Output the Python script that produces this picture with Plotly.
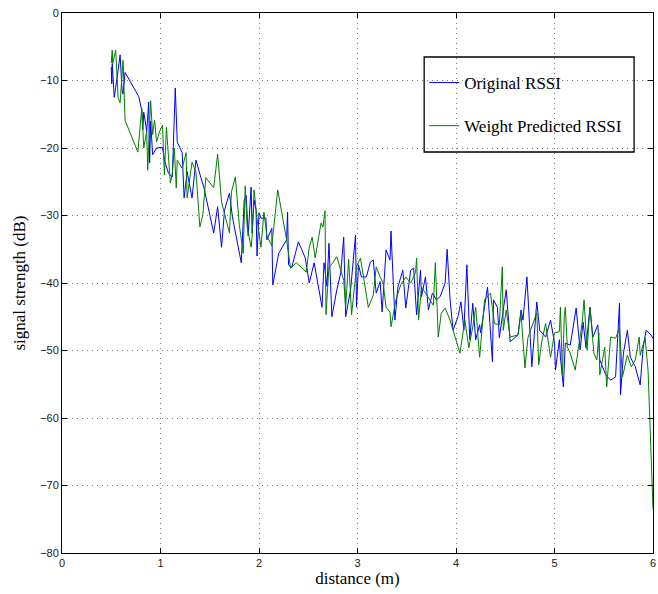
import plotly.graph_objects as go

# Original RSSI samples: distance (m) and signal strength (dB)
orig_dist = [
    0.50, 0.505, 0.51, 0.52, 0.53, 0.56, 0.59, 0.61, 0.62, 0.64,
    0.78, 0.81, 0.82, 0.83, 0.86, 0.88, 0.89, 0.90, 0.92, 0.96,
    1.02, 1.04, 1.08, 1.12, 1.15, 1.17, 1.22, 1.24, 1.27, 1.32,
    1.36, 1.41, 1.44, 1.49, 1.54, 1.58, 1.62, 1.65, 1.70, 1.73,
    1.77, 1.82, 1.85, 1.87, 1.89, 1.92, 1.93, 1.95, 1.97, 1.98,
    2.00, 2.02, 2.07, 2.08, 2.13, 2.14, 2.20, 2.28, 2.29, 2.30,
    2.33, 2.40, 2.47, 2.51, 2.56, 2.59, 2.64, 2.66, 2.69, 2.71,
    2.74, 2.79, 2.83, 2.86, 2.88, 2.93, 2.98, 2.99, 3.01, 3.04,
    3.09, 3.13, 3.16, 3.19, 3.23, 3.25, 3.29, 3.33, 3.34, 3.38,
    3.41, 3.46, 3.49, 3.54, 3.57, 3.60, 3.64, 3.65, 3.69, 3.72,
    3.76, 3.80, 3.84, 3.89, 3.91, 3.94, 3.97, 4.02, 4.05, 4.08,
    4.11, 4.14, 4.17, 4.20, 4.24, 4.25, 4.32, 4.37, 4.38, 4.42,
    4.44, 4.47, 4.51, 4.55, 4.63, 4.66, 4.68, 4.72, 4.75, 4.77,
    4.82, 4.85, 4.91, 4.96, 5.00, 5.01, 5.05, 5.06, 5.09, 5.11,
    5.16, 5.22, 5.26, 5.29, 5.32, 5.36, 5.39, 5.44, 5.46, 5.52,
    5.57, 5.62, 5.66, 5.67, 5.70, 5.74, 5.77, 5.82, 5.87, 5.90,
    5.93, 5.98, 6.00,
]
orig_rssi = [
    -8.0, -10.5, -7.5, -11.5, -12.5, -9.5, -6.2, -11.5, -12.0, -8.8,
    -12.4, -14.5, -17.3, -14.7, -17.5, -13.2, -22.2, -16.0, -21.0, -20.0,
    -19.9, -21.8, -23.7, -24.3, -11.1, -19.1, -20.7, -27.4, -23.5, -27.4,
    -21.8, -24.4, -25.8, -29.2, -32.6, -28.7, -34.7, -29.2, -26.7, -30.2,
    -33.0, -37.0, -27.7, -27.0, -33.0, -25.8, -32.6, -27.7, -29.2, -36.0,
    -29.6, -30.4, -30.4, -33.6, -31.9, -40.3, -35.6, -33.6, -29.5, -37.3,
    -37.8, -33.9, -36.3, -40.0, -37.0, -39.5, -43.6, -37.0, -40.5, -34.1,
    -45.0, -41.0, -38.5, -33.2, -45.0, -41.0, -32.9, -43.6, -37.3, -39.1,
    -39.1, -36.9, -36.6, -41.5, -39.8, -44.3, -35.1, -36.6, -32.3, -45.5,
    -40.6, -38.1, -43.7, -38.1, -37.8, -44.7, -38.1, -42.0, -39.1, -44.0,
    -41.5, -42.5, -42.0, -40.0, -35.0, -42.5, -47.0, -45.0, -42.8, -47.0,
    -37.3, -48.4, -43.0, -48.4, -46.2, -47.4, -40.6, -51.7, -42.5, -43.6,
    -48.1, -45.0, -41.0, -48.7, -47.7, -44.0, -45.5, -39.1, -46.5, -52.4,
    -42.8, -47.0, -48.0, -45.5, -48.9, -52.9, -48.4, -51.0, -55.4, -48.9,
    -49.2, -43.7, -49.9, -45.8, -49.6, -43.6, -48.0, -46.2, -51.4, -53.6,
    -54.4, -53.9, -43.0, -56.6, -50.4, -47.0, -51.0, -52.4, -55.1, -49.6,
    -47.0, -47.7, -48.2,
]

# Weight-predicted RSSI samples
pred_dist = [
    0.50, 0.51, 0.515, 0.545, 0.57, 0.59, 0.62, 0.64, 0.77, 0.81,
    0.83, 0.86, 0.87, 0.90, 0.92, 0.94, 0.96, 0.99, 1.02, 1.04,
    1.06, 1.10, 1.12, 1.14, 1.16, 1.17, 1.22, 1.26, 1.27, 1.32,
    1.36, 1.40, 1.43, 1.46, 1.54, 1.58, 1.62, 1.66, 1.70, 1.72,
    1.76, 1.80, 1.84, 1.86, 1.88, 1.92, 1.93, 1.95, 1.98, 2.02,
    2.05, 2.08, 2.13, 2.19, 2.28, 2.32, 2.38, 2.48, 2.51, 2.54,
    2.57, 2.63, 2.65, 2.67, 2.68, 2.71, 2.74, 2.79, 2.86, 2.88,
    2.91, 2.94, 2.99, 3.03, 3.06, 3.11, 3.16, 3.19, 3.23, 3.26,
    3.29, 3.33, 3.34, 3.39, 3.44, 3.49, 3.54, 3.59, 3.60, 3.62,
    3.65, 3.69, 3.74, 3.77, 3.79, 3.82, 3.85, 3.89, 3.94, 3.97,
    4.04, 4.09, 4.13, 4.17, 4.20, 4.24, 4.29, 4.35, 4.39, 4.44,
    4.47, 4.48, 4.51, 4.55, 4.63, 4.66, 4.70, 4.73, 4.78, 4.82,
    4.84, 4.87, 4.91, 4.96, 5.00, 5.05, 5.06, 5.08, 5.10, 5.11,
    5.13, 5.16, 5.21, 5.25, 5.28, 5.30, 5.33, 5.36, 5.40, 5.43,
    5.45, 5.46, 5.51, 5.53, 5.57, 5.62, 5.66, 5.69, 5.74, 5.78,
    5.82, 5.86, 5.87, 5.92, 5.95, 6.00,
]
pred_rssi = [
    -7.4, -5.5, -7.5, -5.5, -12.6, -13.3, -7.0, -15.9, -20.6, -14.1,
    -20.0, -17.5, -23.3, -13.0, -18.0, -15.9, -19.1, -17.6, -16.6, -24.0,
    -16.9, -25.2, -23.8, -20.0, -25.9, -21.8, -23.0, -20.7, -27.4, -22.1,
    -23.6, -31.7, -29.9, -24.4, -25.9, -20.9, -28.0, -30.4, -32.6, -26.5,
    -24.3, -31.4, -35.6, -25.6, -31.7, -34.7, -33.2, -26.2, -30.5, -34.7,
    -29.5, -33.0, -34.5, -26.2, -33.6, -37.8, -37.0, -38.4, -34.7, -33.2,
    -36.3, -31.1, -31.7, -29.3, -44.7, -37.6, -37.2, -36.1, -39.6, -43.6,
    -36.5, -44.7, -37.6, -36.3, -39.0, -43.6, -41.8, -37.6, -39.1, -40.0,
    -43.6, -44.3, -46.5, -42.5, -40.2, -39.1, -40.0, -38.4, -36.3, -45.5,
    -40.6, -41.5, -42.5, -43.3, -37.0, -48.0, -44.5, -43.7, -45.5, -47.0,
    -50.4, -45.5, -49.6, -46.5, -43.6, -51.0, -42.5, -41.5, -46.0, -46.2,
    -37.6, -47.0, -44.0, -48.0, -47.7, -44.4, -52.6, -48.1, -46.2, -44.4,
    -52.1, -48.7, -46.0, -51.0, -47.4, -47.2, -43.6, -53.6, -44.7, -43.6,
    -49.5, -50.4, -52.9, -48.7, -46.0, -42.5, -49.9, -43.6, -50.4, -51.4,
    -47.4, -53.6, -49.5, -55.4, -48.0, -48.2, -46.7, -53.9, -50.7, -52.4,
    -51.4, -48.0, -50.7, -48.1, -53.0, -73.5,
]

x_ticks = [0, 1, 2, 3, 4, 5, 6]
y_ticks = [-80, -70, -60, -50, -40, -30, -20, -10, 0]

serif = "Liberation Serif"
sans = "Liberation Sans"

fig = go.Figure()
fig.add_trace(go.Scatter(
    x=orig_dist, y=orig_rssi, mode="lines", name="Original RSSI",
    line=dict(color="#0000ff", width=1), legendgroup="a",
))
fig.add_trace(go.Scatter(
    x=pred_dist, y=pred_rssi, mode="lines", name="Weight Predicted RSSI",
    line=dict(color="#008000", width=1), legendgroup="b",
))

axis_common = dict(
    showline=True, linecolor="black", linewidth=1, mirror="ticks",
    ticks="inside", ticklen=5, tickcolor="black",
    showgrid=True, gridcolor="#7a7a7a", griddash="1px,4px", gridwidth=1,
    zeroline=False, tickfont=dict(family=sans, size=11, color="#222"),
    ticklabeloverflow="allow",
)

fig.update_xaxes(
    range=[0, 6], tickvals=x_ticks, title=dict(
        text="distance (m)", font=dict(family=serif, size=17, color="black"),
        standoff=2),
    **axis_common,
)
fig.update_yaxes(
    range=[-80, 0], tickvals=y_ticks, title=dict(
        text="signal strength (dB)", font=dict(family=serif, size=17, color="black"),
        standoff=10),
    **axis_common,
)

# legend frame
fig.add_shape(
    type="rect", xref="paper", yref="paper",
    x0=0.6128, x1=0.968, y0=0.7426, y1=0.9185,
    line=dict(color="black", width=1.3), fillcolor="white", layer="between",
)

fig.update_layout(
    width=658, height=594,
    margin=dict(l=62, r=2, t=13, b=41),
    paper_bgcolor="white", plot_bgcolor="white",
    showlegend=True,
    legend=dict(
        x=0.6128, y=0.9037, xanchor="left", yanchor="top",
        bgcolor="rgba(0,0,0,0)", borderwidth=0,
        font=dict(family=serif, size=17, color="black"),
        tracegroupgap=18, itemwidth=30,
    ),
)

fig.write_html("out.html")
